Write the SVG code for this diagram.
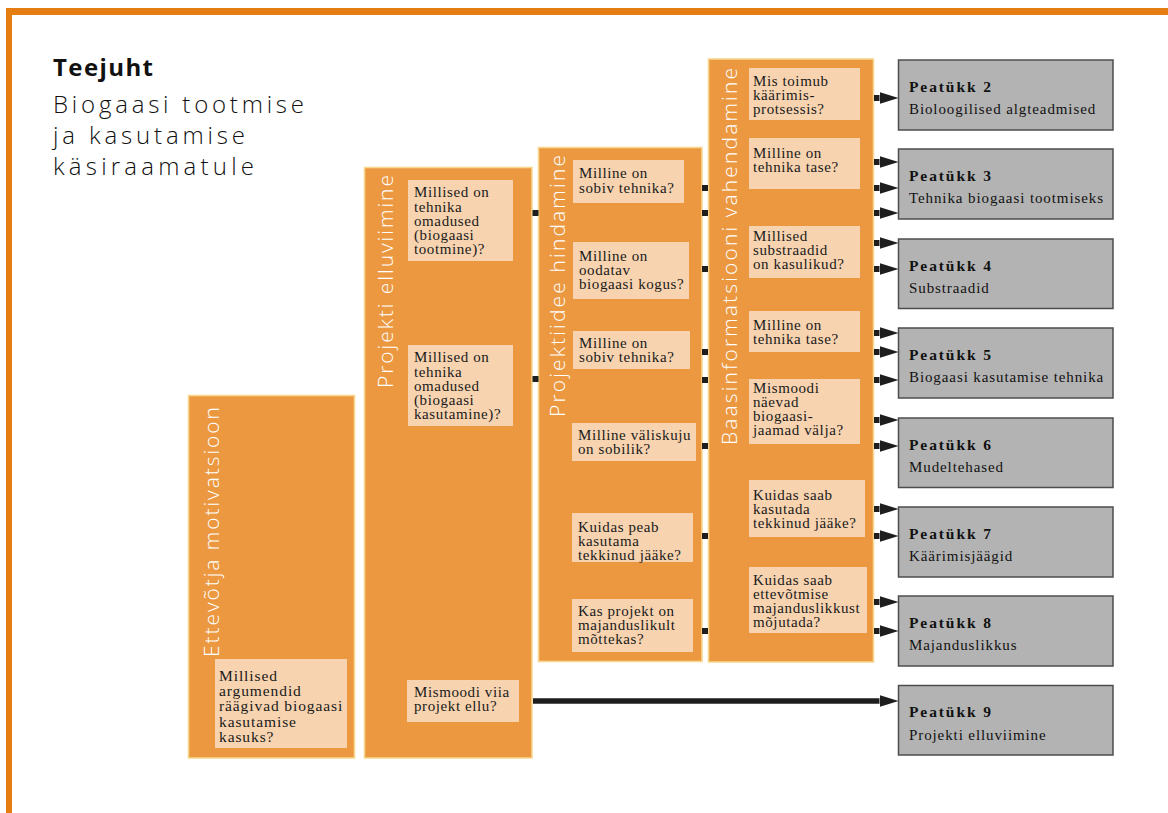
<svg xmlns="http://www.w3.org/2000/svg" width="1168" height="813" viewBox="0 0 1168 813">
<defs>
<style>
.frame{fill:#e67d12}
.col{fill:#eb9840;stroke:#f7d890;stroke-width:1.6}
.q{fill:#f7d3b0}
.qt{font-family:"Liberation Serif",serif;font-size:15px;letter-spacing:0.6px;fill:#1a1a1a}
.qt1{font-family:"Liberation Serif",serif;font-size:15.5px;letter-spacing:0.9px;fill:#1a1a1a}
.vl{font-family:"Open Sans","Liberation Sans",sans-serif;font-weight:300;font-size:21px;fill:#ffffff}
.title{font-family:"Open Sans","Liberation Sans",sans-serif;font-weight:700;font-size:24px;fill:#111}
.sub{font-family:"Open Sans","Liberation Sans",sans-serif;font-weight:300;font-size:24px;fill:#111}
.ch{fill:#b3b3b3;stroke:#4d4d4d;stroke-width:1.5}
.cht{font-family:"Liberation Serif",serif;font-size:15.5px;font-weight:700;letter-spacing:1.9px;fill:#111}
.chs{font-family:"Liberation Serif",serif;font-size:15px;letter-spacing:0.9px;fill:#111}
.sq{fill:#1e1e1e}
.ar{stroke:#1e1e1e;stroke-width:6;fill:none}
.long{stroke:#1e1e1e;stroke-width:5.5;fill:none}
</style>
<marker id="ah" viewBox="0 0 20 12" markerWidth="20" markerHeight="12" refX="0" refY="6" markerUnits="userSpaceOnUse" orient="auto">
<path d="M0,0 L19,6 L0,12 Z" fill="#1e1e1e"/>
</marker>
</defs>
<rect width="1168" height="813" fill="#ffffff"/>
<g id="frame">
<rect class="frame" x="6" y="8" width="1162" height="7"/>
<rect class="frame" x="6" y="8" width="6" height="805"/>
</g>
<g id="heading">
<text class="title" x="53" y="76" textLength="100" lengthAdjust="spacing">Teejuht</text>
<text class="sub" x="53" y="113" textLength="251" lengthAdjust="spacing">Biogaasi tootmise</text>
<text class="sub" x="53" y="144" textLength="192" lengthAdjust="spacing">ja kasutamise</text>
<text class="sub" x="53" y="175" textLength="201" lengthAdjust="spacing">käsiraamatule</text>
</g>
<g id="col1">
<rect class="col" x="188.5" y="395.5" width="166" height="362.5"/>
<text class="vl" transform="translate(219,657) rotate(-90)" textLength="250" lengthAdjust="spacing">Ettevõtja motivatsioon</text>
<g id="q1-1"><rect class="q" x="215" y="659" width="132" height="89"/>
<text class="qt1"><tspan x="219" y="681">Millised</tspan><tspan x="219" y="696">argumendid</tspan><tspan x="219" y="711">räägivad biogaasi</tspan><tspan x="219" y="726.5">kasutamise</tspan><tspan x="219" y="742">kasuks?</tspan></text></g>
</g>
<g id="col2">
<rect class="col" x="364.5" y="167.5" width="167.5" height="590.5"/>
<text class="vl" transform="translate(393,388) rotate(-90)" textLength="213" lengthAdjust="spacing">Projekti elluviimine</text>
<g id="q2-1"><rect class="q" x="408" y="180" width="105" height="81"/>
<text class="qt"><tspan x="414" y="197">Millised on</tspan><tspan x="414" y="211.5">tehnika</tspan><tspan x="414" y="226">omadused</tspan><tspan x="414" y="240">(biogaasi</tspan><tspan x="414" y="254">tootmine)?</tspan></text></g>
<g id="q2-2"><rect class="q" x="408" y="345" width="105" height="81"/>
<text class="qt"><tspan x="414" y="362">Millised on</tspan><tspan x="414" y="376.5">tehnika</tspan><tspan x="414" y="391">omadused</tspan><tspan x="414" y="405">(biogaasi</tspan><tspan x="414" y="419">kasutamine)?</tspan></text></g>
<g id="q2-3"><rect class="q" x="407" y="680" width="112" height="42"/>
<text class="qt"><tspan x="414" y="697">Mismoodi viia</tspan><tspan x="414" y="711">projekt ellu?</tspan></text></g>
</g>
<g id="col3">
<rect class="col" x="538.5" y="147.5" width="163.5" height="514"/>
<text class="vl" transform="translate(565,417) rotate(-90)" textLength="262" lengthAdjust="spacing">Projektiidee hindamine</text>
<g id="q3-1"><rect class="q" x="573" y="160" width="111" height="43"/>
<text class="qt"><tspan x="579" y="178">Milline on</tspan><tspan x="579" y="193">sobiv tehnika?</tspan></text></g>
<g id="q3-2"><rect class="q" x="573" y="242" width="116" height="57"/>
<text class="qt"><tspan x="579" y="261">Milline on</tspan><tspan x="579" y="275">oodatav</tspan><tspan x="579" y="289">biogaasi kogus?</tspan></text></g>
<g id="q3-3"><rect class="q" x="573" y="331" width="117" height="38"/>
<text class="qt"><tspan x="579" y="348">Milline on</tspan><tspan x="579" y="362">sobiv tehnika?</tspan></text></g>
<g id="q3-4"><rect class="q" x="572" y="423" width="124" height="38"/>
<text class="qt"><tspan x="578" y="440">Milline väliskuju</tspan><tspan x="578" y="454">on sobilik?</tspan></text></g>
<g id="q3-5"><rect class="q" x="572" y="513" width="121" height="49"/>
<text class="qt"><tspan x="578" y="532">Kuidas peab</tspan><tspan x="578" y="546">kasutama</tspan><tspan x="578" y="560">tekkinud jääke?</tspan></text></g>
<g id="q3-6"><rect class="q" x="572" y="599" width="121" height="53"/>
<text class="qt"><tspan x="578" y="616">Kas projekt on</tspan><tspan x="578" y="630">majanduslikult</tspan><tspan x="578" y="644">mõttekas?</tspan></text></g>
</g>
<g id="col4">
<rect class="col" x="708.5" y="59" width="165" height="603"/>
<text class="vl" transform="translate(737,445) rotate(-90)" textLength="377" lengthAdjust="spacing">Baasinformatsiooni vahendamine</text>
<g id="q4-1"><rect class="q" x="749" y="68" width="111" height="52"/>
<text class="qt"><tspan x="753" y="86">Mis toimub</tspan><tspan x="753" y="100">käärimis-</tspan><tspan x="753" y="114">protsessis?</tspan></text></g>
<g id="q4-2"><rect class="q" x="749" y="138" width="111" height="51"/>
<text class="qt"><tspan x="753" y="158">Milline on</tspan><tspan x="753" y="172">tehnika tase?</tspan></text></g>
<g id="q4-3"><rect class="q" x="749" y="226" width="111" height="52"/>
<text class="qt"><tspan x="753" y="241">Millised</tspan><tspan x="753" y="255">substraadid</tspan><tspan x="753" y="269">on kasulikud?</tspan></text></g>
<g id="q4-4"><rect class="q" x="749" y="311" width="111" height="41"/>
<text class="qt"><tspan x="753" y="330">Milline on</tspan><tspan x="753" y="344">tehnika tase?</tspan></text></g>
<g id="q4-5"><rect class="q" x="749" y="379" width="111" height="65"/>
<text class="qt"><tspan x="753" y="393">Mismoodi</tspan><tspan x="753" y="407">näevad</tspan><tspan x="753" y="421">biogaasi-</tspan><tspan x="753" y="435">jaamad välja?</tspan></text></g>
<g id="q4-6"><rect class="q" x="749" y="480" width="116" height="57"/>
<text class="qt"><tspan x="753" y="500">Kuidas saab</tspan><tspan x="753" y="514">kasutada</tspan><tspan x="753" y="528">tekkinud jääke?</tspan></text></g>
<g id="q4-7"><rect class="q" x="749" y="567" width="118" height="66"/>
<text class="qt"><tspan x="753" y="585">Kuidas saab</tspan><tspan x="753" y="599">ettevõtmise</tspan><tspan x="753" y="613">majanduslikkust</tspan><tspan x="753" y="627">mõjutada?</tspan></text></g>
</g>
<g id="chapters">
<g id="ch2"><rect class="ch" x="898.5" y="60" width="214.5" height="70"/><text class="cht" x="909" y="91.5">Peatükk 2</text><text class="chs" x="909" y="114">Bioloogilised algteadmised</text></g>
<g id="ch3"><rect class="ch" x="898.5" y="149" width="214.5" height="70"/><text class="cht" x="909" y="180.5">Peatükk 3</text><text class="chs" x="909" y="203">Tehnika biogaasi tootmiseks</text></g>
<g id="ch4"><rect class="ch" x="898.5" y="239" width="214.5" height="69.5"/><text class="cht" x="909" y="270.5">Peatükk 4</text><text class="chs" x="909" y="293">Substraadid</text></g>
<g id="ch5"><rect class="ch" x="898.5" y="328" width="214.5" height="70"/><text class="cht" x="909" y="359.5">Peatükk 5</text><text class="chs" x="909" y="382">Biogaasi kasutamise tehnika</text></g>
<g id="ch6"><rect class="ch" x="898.5" y="418" width="214.5" height="69.5"/><text class="cht" x="909" y="449.5">Peatükk 6</text><text class="chs" x="909" y="472">Mudeltehased</text></g>
<g id="ch7"><rect class="ch" x="898.5" y="507" width="214.5" height="70"/><text class="cht" x="909" y="538.5">Peatükk 7</text><text class="chs" x="909" y="561">Käärimisjäägid</text></g>
<g id="ch8"><rect class="ch" x="898.5" y="596" width="214.5" height="70"/><text class="cht" x="909" y="627.5">Peatükk 8</text><text class="chs" x="909" y="650">Majanduslikkus</text></g>
<g id="ch9"><rect class="ch" x="898.5" y="685.5" width="214.5" height="69.5"/><text class="cht" x="909" y="717">Peatükk 9</text><text class="chs" x="909" y="739.5">Projekti elluviimine</text></g>
</g>
<g id="connectors">
<rect class="sq" x="532.5" y="210" width="6" height="6"/>
<rect class="sq" x="532.5" y="376" width="6" height="6"/>
<rect class="sq" x="702" y="185" width="6" height="6"/>
<rect class="sq" x="702" y="210" width="6" height="6"/>
<rect class="sq" x="702" y="266" width="6" height="6"/>
<rect class="sq" x="702" y="349" width="6" height="6"/>
<rect class="sq" x="702" y="377" width="6" height="6"/>
<rect class="sq" x="702" y="443" width="6" height="6"/>
<rect class="sq" x="702" y="533" width="6" height="6"/>
<rect class="sq" x="702" y="628" width="6" height="6"/>
<path class="ar" marker-end="url(#ah)" d="M874,98 H879.5"/>
<path class="ar" marker-end="url(#ah)" d="M874,162 H879.5"/>
<path class="ar" marker-end="url(#ah)" d="M874,188 H879.5"/>
<path class="ar" marker-end="url(#ah)" d="M874,213 H879.5"/>
<path class="ar" marker-end="url(#ah)" d="M874,243 H879.5"/>
<path class="ar" marker-end="url(#ah)" d="M874,269 H879.5"/>
<path class="ar" marker-end="url(#ah)" d="M874,333 H879.5"/>
<path class="ar" marker-end="url(#ah)" d="M874,352 H879.5"/>
<path class="ar" marker-end="url(#ah)" d="M874,380 H879.5"/>
<path class="ar" marker-end="url(#ah)" d="M874,420 H879.5"/>
<path class="ar" marker-end="url(#ah)" d="M874,446 H879.5"/>
<path class="ar" marker-end="url(#ah)" d="M874,509 H879.5"/>
<path class="ar" marker-end="url(#ah)" d="M874,536 H879.5"/>
<path class="ar" marker-end="url(#ah)" d="M874,602 H879.5"/>
<path class="ar" marker-end="url(#ah)" d="M874,631 H879.5"/>
<path class="long" marker-end="url(#ah)" d="M533,701 H879.5"/>
</g>
</svg>
